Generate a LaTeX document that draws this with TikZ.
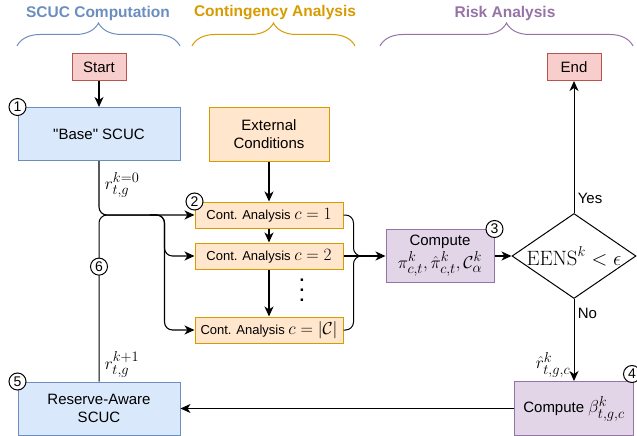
\documentclass[tikz,border=0pt]{standalone}
\usepackage{amsmath,amssymb}
\usepackage[no-math]{fontspec}
\setmainfont{Liberation Sans}
\usepackage{xcolor}
\usepackage{tikz}
\usetikzlibrary{positioning,arrows.meta,shapes.geometric,calc,decorations.pathreplacing}
\definecolor{scucblue}{HTML}{6C8EBF}
\definecolor{scucfill}{HTML}{DAE8FC}
\definecolor{contorange}{HTML}{D79B00}
\definecolor{contfill}{HTML}{FFE6CC}
\definecolor{riskpurple}{HTML}{9673A6}
\definecolor{riskfill}{HTML}{E1D5E7}
\definecolor{termred}{HTML}{B85450}
\definecolor{termfill}{HTML}{F8CECC}
% math is set a little larger than the surrounding text
\newcommand{\bigmath}[1]{{\fontsize{19}{22}\selectfont$#1$}}
\newcommand{\midmath}[1]{{\fontsize{17}{20}\selectfont$#1$}}
\tikzset{
  box/.style={draw, line width=1pt, inner sep=2pt, align=center,
              font=\fontsize{15}{18}\selectfont},
  bluebox/.style={box, draw=scucblue, fill=scucfill, minimum width=162pt, minimum height=53pt},
  orangebox/.style={box, draw=contorange, fill=contfill},
  contbox/.style={orangebox, minimum width=148pt, minimum height=26pt,
                  font=\fontsize{13}{15}\selectfont},
  purplebox/.style={box, draw=riskpurple, fill=riskfill},
  redbox/.style={box, draw=termred, fill=termfill, minimum width=54pt, minimum height=27pt},
  decision/.style={diamond, draw, line width=1pt, inner sep=0pt, shape aspect=1.46,
                   minimum width=124pt, minimum height=85pt, font=\fontsize{20}{22}\selectfont},
  num/.style={circle, draw, fill=white, line width=1pt, inner sep=0pt,
              minimum size=17pt, font=\fontsize{14}{14}\selectfont},
  arrow/.style={-{Stealth[length=10pt, width=9pt, inset=3pt]}, line width=1.1pt},
  line/.style={line width=1pt},
  lbl/.style={font=\fontsize{15}{18}\selectfont},
  hdr/.style={font=\fontsize{15.5}{18}\selectfont\bfseries},
  bracket/.style={decorate, decoration={brace, amplitude=23pt}, line width=1pt},
}

\begin{document}
\begin{tikzpicture}[x=1pt, y=1pt]
  \useasboundingbox (0,0) rectangle (637,-436);

  % stage headers
  \node[hdr, text=scucblue]   (hscuc) at (98,-13)  {SCUC Computation};
  \node[hdr, text=contorange] (hcont) at (275,-13) {Contingency Analysis};
  \node[hdr, text=riskpurple] (hrisk) at (505,-13) {Risk Analysis};
  \draw[bracket, scucblue]   (17,-46)  -- (180,-46);
  \draw[bracket, contorange] (192,-46) -- (355,-46);
  \draw[bracket, riskpurple] (380,-46) -- (633,-46);

  % blocks
  \node[redbox] (start) at (99,-67) {Start};
  \node[bluebox, below=26pt of start] (base) {\textquotedbl Base\textquotedbl{} SCUC};
  \node[orangebox, right=28pt of base, minimum width=120pt, minimum height=54pt] (ext) {External\\Conditions};
  \node[contbox, below=40pt of ext] (c1) {Cont. Analysis \midmath{c=1}};
  \node[contbox, below=14pt of c1]  (c2) {Cont. Analysis \midmath{c=2}};
  \node[contbox, below=47pt of c2]  (c3) {Cont. Analysis \midmath{c=|\mathcal{C}|}};
  \node[align=center, inner sep=0pt, font=\fontsize{17}{10}\selectfont\bfseries] (dots)
    at ($(c2.south)!0.5!(c3.north)+(33,3)$) {.\\.\\.};
  \node[purplebox, right=42pt of c2, minimum width=108pt, minimum height=53pt] (comp)
    {Compute\\[2pt]\bigmath{\pi^k_{c,t}, \hat{\pi}^k_{c,t}, \mathcal{C}^k_\alpha}};
  \node[decision, right=17pt of comp] (eens) {$\mathrm{EENS}^k < \epsilon$};
  \node[redbox, above=132pt of eens] (fin) {End};
  \node[purplebox, below=82pt of eens, minimum width=119pt, minimum height=54pt] (beta)
    {Compute \bigmath{\beta^k_{t,g,c}}};
  \node[bluebox] (resv) at (base |- beta) {Reserve-Aware\\SCUC};

  % junction points
  \coordinate (split) at ($(c1.west)+(-30,0)$);
  \coordinate (fork)  at ($(split)+(-15,0)$);
  \coordinate (merge) at ($(c2.east)+(10,0)$);
  \coordinate (join)  at ($(merge)+(12,0)$);

  % connectors
  \draw[arrow] (start) -- (base);
  \draw[arrow] (ext) -- (c1);
  \draw[arrow] (c1) -- (c2);
  \draw[arrow] (c2) -- (c3);
  \draw[arrow, rounded corners=8pt] (base.south)
    -- node[lbl, right, pos=0.45, xshift=2pt] (r0) {\bigmath{r^{k=0}_{t,g}}} (base.south |- c1.west) -- (c1.west);
  \draw[arrow, rounded corners=8pt] (fork) -- (split) |- (c2.west);
  \draw[arrow, rounded corners=8pt] (fork) -- (split) |- (c3.west);
  \draw[line, rounded corners=8pt] (resv.north)
    -- node[lbl, right, pos=0.1, xshift=2pt] (r1) {\bigmath{r^{k+1}_{t,g}}}
       node[num, pos=0.69] (n6) {6} (resv.north |- c1.west) -- (fork);
  \draw[line, rounded corners=8pt] (c1.east) -| (merge) -- (join);
  \draw[line, rounded corners=8pt] (c3.east) -| (merge) -- (join);
  \draw[arrow] (c2.east) -- (comp.west);
  \draw[arrow] (comp) -- (eens);
  \draw[arrow, line width=1pt] (eens.north) -- node[lbl, right, pos=0.11] (yes) {Yes} (fin.south);
  \draw[arrow, line width=1pt] (eens.south) -- node[lbl, right, pos=0.18] (no) {No}
    node[lbl, left, pos=0.8] (rh) {\bigmath{\hat{r}^k_{t,g,c}}} (beta.north);
  \draw[arrow, line width=1pt] (beta) -- (resv);

  % step numbers
  \node[num] (n1) at (base.north west) {1};
  \node[num] (n2) at (c1.north west) {2};
  \node[num] (n3) at (comp.north east) {3};
  \node[num] (n4) at ([shift={(-2,7)}]beta.north east) {4};
  \node[num] (n5) at (resv.north west) {5};
\end{tikzpicture}
\end{document}
